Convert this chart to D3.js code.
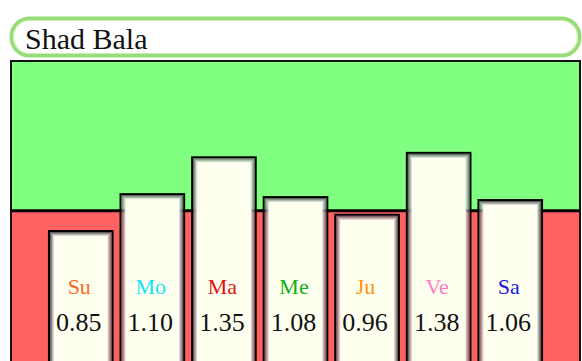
<!DOCTYPE html>
<html>
<head>
<meta charset="utf-8">
<script src="https://cdn.jsdelivr.net/npm/d3@7"></script>
<style>
  html, body { margin: 0; padding: 0; background: #ffffff; }
  svg { display: block; }
  .serif { font-family: "Liberation Serif", "DejaVu Serif", serif; }
</style>
</head>
<body>
<script>
// Shad Bala strength ratios for the seven grahas
const planets = ["Su", "Mo", "Ma", "Me", "Ju", "Ve", "Sa"];
const strengths = [0.85, 1.10, 1.35, 1.08, 0.96, 1.38, 1.06];
const labelColors = ["#ff6a1c", "#10e4ff", "#e01010", "#10b010", "#ff9410", "#ff7cc4", "#1818e8"];
const threshold = 0.98;
const title = "Shad Bala";

const W = 582, H = 361;
const plot = { left: 11, right: 580, top: 61 };

const svg = d3.select("body").append("svg")
  .attr("width", W).attr("height", H);

// Title capsule
svg.append("rect")
  .attr("x", 11.5).attr("y", 18.5).attr("width", 568).attr("height", 37)
  .attr("rx", 18).attr("ry", 18)
  .attr("fill", "#ffffff").attr("stroke", "#98dc78").attr("stroke-width", 4);
svg.append("rect")
  .attr("x", 13.5).attr("y", 20.5).attr("width", 564).attr("height", 33)
  .attr("rx", 16).attr("ry", 16)
  .attr("fill", "none").attr("stroke", "#c8efb4").attr("stroke-width", 1.2);
svg.append("text")
  .attr("class", "serif")
  .attr("x", 25).attr("y", 48.5)
  .attr("font-size", 30).attr("fill", "#111")
  .text(title);

// Scales
const x = d3.scaleBand()
  .domain(planets)
  .range([plot.left - 1, plot.right + 1])
  .paddingInner(0.083)
  .paddingOuter(0.53);

const y = d3.scaleLinear()
  .domain([0, 1.5])
  .range([355.4, 355.4 - 1.5 * 147.5]);

const yThr = y(threshold);

// Strong (above threshold) and weak (below) zones
svg.append("rect")
  .attr("x", plot.left).attr("y", plot.top)
  .attr("width", plot.right - plot.left).attr("height", yThr - plot.top)
  .attr("fill", "#80ff80");
svg.append("rect")
  .attr("x", plot.left).attr("y", yThr)
  .attr("width", plot.right - plot.left).attr("height", H - yThr + 10)
  .attr("fill", "#ff6262");
svg.append("line")
  .attr("x1", plot.left).attr("x2", plot.right)
  .attr("y1", yThr).attr("y2", yThr)
  .attr("stroke", "#000").attr("stroke-width", 3);
// Frame
svg.append("rect")
  .attr("x", plot.left).attr("y", plot.top)
  .attr("width", plot.right - plot.left).attr("height", H)
  .attr("fill", "none").attr("stroke", "#111").attr("stroke-width", 2);

// Bars with bevelled edges
const data = planets.map((p, i) => ({ p, v: strengths[i], c: labelColors[i] }));
const bars = svg.append("g").selectAll("g").data(data).join("g");

const bevel = [
  { inset: 1, color: "#000000", w: 2 },
  { inset: 2.5, color: "#5e5e5e", w: 1 },
  { inset: 3.5, color: "#8a8a8a", w: 1 },
  { inset: 4.5, color: "#b4b4b4", w: 1 },
  { inset: 5.5, color: "#dadada", w: 1 }
];
bevel.forEach((b, k) => {
  bars.append("rect")
    .attr("x", d => x(d.p) + b.inset)
    .attr("y", d => y(d.v) + b.inset)
    .attr("width", x.bandwidth() - 2 * b.inset)
    .attr("height", d => H + 20 - y(d.v))
    .attr("fill", k === bevel.length - 1 ? "#fffff0" : "none")
    .attr("stroke", b.color).attr("stroke-width", b.w);
});

// Planet names
bars.append("text")
  .attr("class", "serif")
  .attr("x", d => x(d.p) + x.bandwidth() / 2 - 1.5)
  .attr("y", 294)
  .attr("text-anchor", "middle")
  .attr("font-size", 22)
  .attr("fill", d => d.c)
  .text(d => d.p);

// Strength values
bars.append("text")
  .attr("class", "serif")
  .attr("x", d => x(d.p) + x.bandwidth() / 2 - 2)
  .attr("y", 331)
  .attr("text-anchor", "middle")
  .attr("font-size", 26)
  .attr("fill", "#111")
  .text(d => d3.format(".2f")(d.v));
</script>
</body>
</html>
